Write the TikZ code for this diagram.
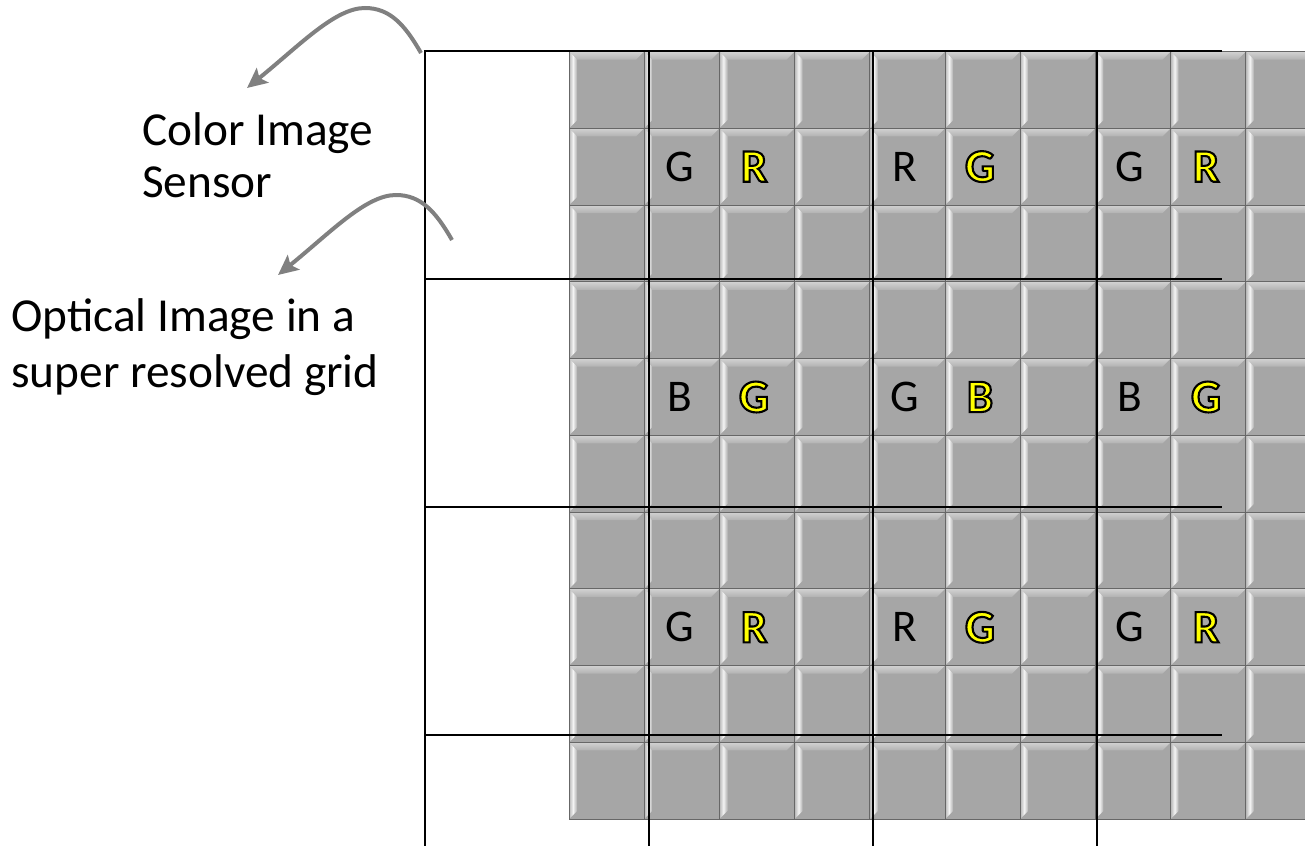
\documentclass[tikz,border=0pt]{standalone}
\usepackage{fontspec}
\setmainfont{Carlito}
\newfontface\hotface{Carlito Bold}[FakeBold=4.5]
\newcommand{\hotglyph}[1]{{\color{ylw}\special{pdf:literal direct 0 0 0 RG}\hotface #1}}
\usetikzlibrary{arrows.meta}
\definecolor{tilegray}{HTML}{A6A6A6}
\definecolor{tileedge}{HTML}{676767}
\definecolor{tiletopA}{HTML}{D2D2D2}
\definecolor{tiletopB}{HTML}{B2B2B2}
\definecolor{hlA}{HTML}{B6B6B6}
\definecolor{hlB}{HTML}{F4F4F4}
\definecolor{hlC}{HTML}{B0B0B0}
\definecolor{arrowgray}{HTML}{808080}
\definecolor{ylw}{HTML}{FFFF00}
\begin{document}
\begin{tikzpicture}[x=0.75pt,y=-0.75pt,
  gridline/.style={black,line width=1.5pt},
  curvearrow/.style={arrowgray,line width=3pt,-{Stealth[length=15pt,width=14pt,inset=3pt]}},
  lbltext/.style={align=left,inner sep=0},
  plainletter/.style={font=\fontsize{34}{40}\selectfont,inner sep=0},
  hotletter/.style={font=\fontsize{35}{40}\selectfont,inner sep=0}
]
\useasboundingbox (0,0) rectangle (1305,846);
\begin{scope}
\clip (0,0) rectangle (1305,846);
\foreach \i in {0,...,9}{\foreach \j in {0,...,9}{
  \pgfmathsetmacro{\X}{569+75.2*\i}
  \pgfmathsetmacro{\Y}{51.5+76.75*\j}
  \fill[tilegray] (\X,\Y) rectangle ++(75.2,76.75);
  \shade[top color=tiletopA,bottom color=tiletopB] (\X,\Y) -- ++(75.2,0) -- ++(-8,8) -- ++(-59.2,0) -- cycle;
  \shade[left color=hlA,right color=hlC,middle color=hlB] (\X,\Y) -- ++(8,8) -- ++(0,60.75) -- ++(-8,8) -- cycle;
  \draw[tileedge,line width=0.7pt] (\X,\Y) rectangle ++(75.2,76.75);
}}
\end{scope}
% frame lines
\foreach \y in {51,279,507,735}{\draw[gridline] (424,\y) -- (1222,\y);}
\foreach \x in {425,649,873,1097}{\draw[gridline] (\x,50) -- (\x,846);}
% letters
\foreach \r/\yy in {1/166.6,7/627.3}{
  \node[plainletter] (k1\r) at (680,\yy) {G};
  \node[hotletter] (y1\r) at (754,\yy) {\hotglyph{R}};
  \node[plainletter] (k2\r) at (905,\yy) {R};
  \node[hotletter] (y2\r) at (980,\yy) {\hotglyph{G}};
  \node[plainletter] (k3\r) at (1130,\yy) {G};
  \node[hotletter] (y3\r) at (1206,\yy) {\hotglyph{R}};
}
\node[plainletter] (k14) at (680,397) {B};
\node[hotletter] (y14) at (754,397) {\hotglyph{G}};
\node[plainletter] (k24) at (905,397) {G};
\node[hotletter] (y24) at (980,397) {\hotglyph{B}};
\node[plainletter] (k34) at (1130,397) {B};
\node[hotletter] (y34) at (1206,397) {\hotglyph{G}};
% labels
\node[lbltext,font=\fontsize{35.5}{39}\selectfont,anchor=base west] (cis) at (142,197) {Color Image\\Sensor};
\node[lbltext,font=\fontsize{35.5}{42}\selectfont,anchor=base west] (oig) at (11,387) {Optical Image in a\\super resolved grid};
% arrows
\coordinate (a1s) at (421,53);
\coordinate (a1p) at (365,8);
\coordinate (a1e) at (247,88);
\draw[curvearrow] (a1s) .. controls (405,25) and (390,8) .. (a1p) .. controls (335,8) and (300,45) .. (a1e);
\coordinate (a2s) at (452,240);
\coordinate (a2p) at (396,195);
\coordinate (a2e) at (278,275);
\draw[curvearrow] (a2s) .. controls (436,212) and (421,195) .. (a2p) .. controls (366,195) and (331,232) .. (a2e);
\end{tikzpicture}
\end{document}
